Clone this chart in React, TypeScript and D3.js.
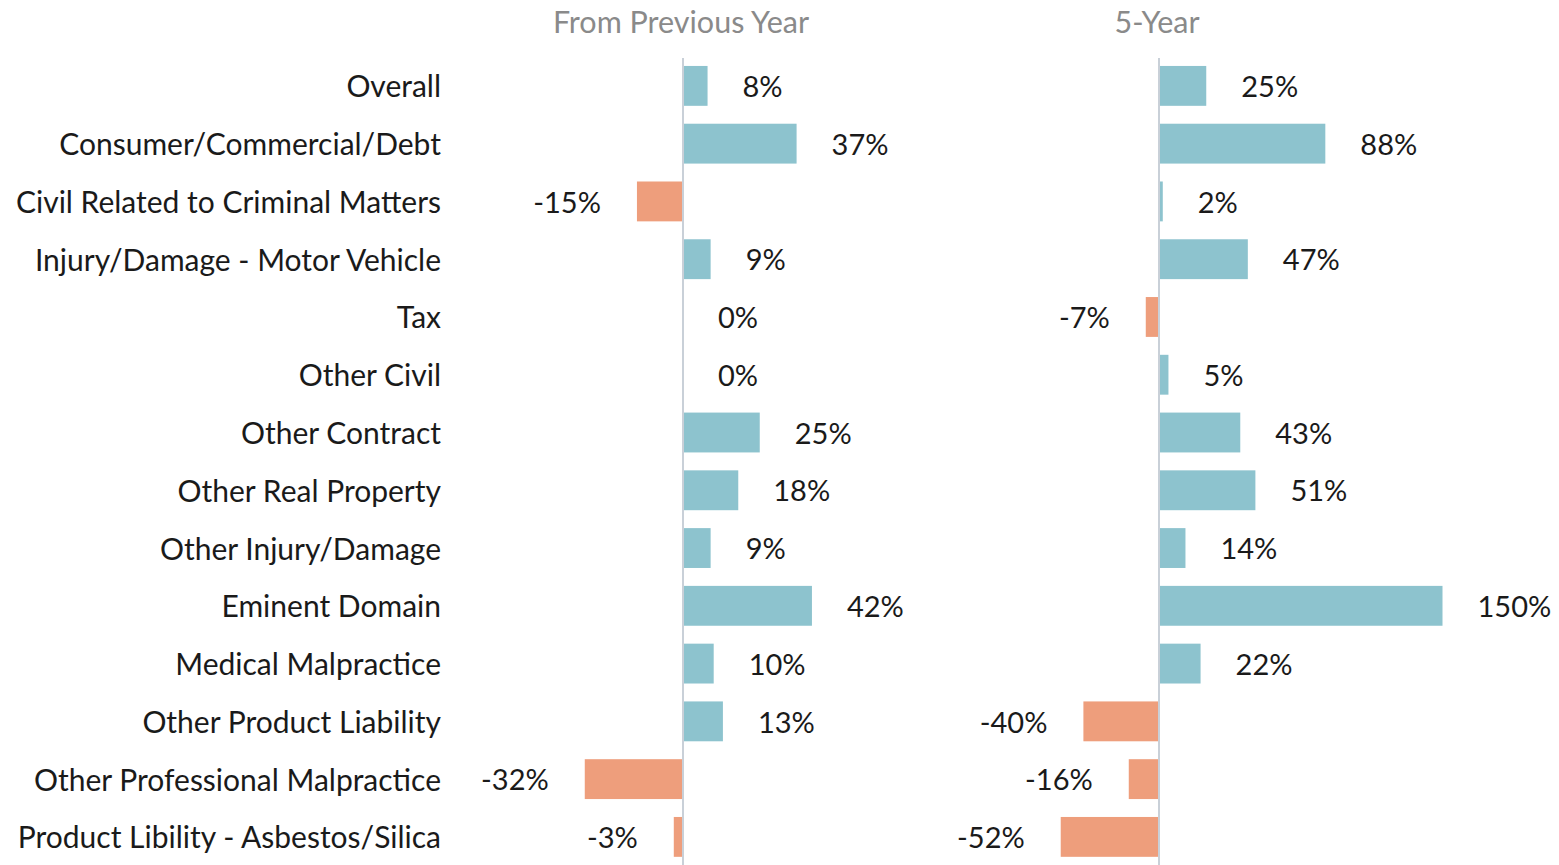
import React, { useEffect, useRef } from "react";
import * as d3 from "d3";

const categories = [
  "Overall",
  "Consumer/Commercial/Debt",
  "Civil Related to Criminal Matters",
  "Injury/Damage - Motor Vehicle",
  "Tax",
  "Other Civil",
  "Other Contract",
  "Other Real Property",
  "Other Injury/Damage",
  "Eminent Domain",
  "Medical Malpractice",
  "Other Product Liability",
  "Other Professional Malpractice",
  "Product Libility - Asbestos/Silica",
];
const fromPreviousYear = [8, 37, -15, 9, 0, 0, 25, 18, 9, 42, 10, 13, -32, -3];
const fiveYear = [25, 88, 2, 47, -7, 5, 43, 51, 14, 150, 22, -40, -16, -52];
const panelTitles = ["From Previous Year", "5-Year"];

const W = 1559;
const H = 865;
const FONT = "Lato, 'Noto Sans', sans-serif";
const BLUE = "#8dc3ce";
const ORANGE = "#ee9e7c";

const App = () => {
  const ref = useRef<SVGSVGElement>(null);

  useEffect(() => {
    const svg = d3.select(ref.current);
    svg.selectAll("*").remove();

    const y = d3.scaleBand<string>()
      .domain(categories)
      .range([57, 57 + 57.77 * categories.length])
      .paddingInner(0.31)
      .paddingOuter(0.155);

    // category labels
    svg.append("g")
      .selectAll("text")
      .data(categories)
      .join("text")
      .attr("x", 441)
      .attr("y", d => y(d)! + y.bandwidth() / 2 + 1)
      .attr("dy", "0.35em")
      .attr("text-anchor", "end")
      .attr("font-family", FONT)
      .attr("font-size", 30)
      .attr("fill", "#1a1a1a")
      .text(d => d);

    const panels = [
      { title: panelTitles[0], values: fromPreviousYear, zero: 683, ppu: 3.07, domain: [-40, 50] },
      { title: panelTitles[1], values: fiveYear, zero: 1159, ppu: 1.89, domain: [-60, 160] },
    ];

    panels.forEach(p => {
      const x = d3.scaleLinear()
        .domain(p.domain)
        .range([p.zero + p.domain[0] * p.ppu, p.zero + p.domain[1] * p.ppu]);
      const g = svg.append("g");

      g.append("text")
        .attr("x", x(0) - 2)
        .attr("y", 22)
        .attr("dy", "0.35em")
        .attr("text-anchor", "middle")
        .attr("font-family", FONT)
        .attr("font-size", 30.5)
        .attr("fill", "#8a8a8a")
        .text(p.title);

      const rows = categories.map((c, i) => ({ c, v: p.values[i] }));

      g.selectAll("rect")
        .data(rows)
        .join("rect")
        .attr("x", d => x(Math.min(0, d.v)))
        .attr("y", d => y(d.c)!)
        .attr("width", d => Math.abs(x(d.v) - x(0)))
        .attr("height", y.bandwidth())
        .attr("fill", d => (d.v < 0 ? ORANGE : BLUE));

      g.append("line")
        .attr("x1", x(0))
        .attr("x2", x(0))
        .attr("y1", 58)
        .attr("y2", H)
        .attr("stroke", "#c9d0d8")
        .attr("stroke-width", 2);

      g.selectAll(".val")
        .data(rows)
        .join("text")
        .attr("class", "val")
        .attr("x", d => (d.v < 0 ? x(d.v) - 36 : x(d.v) + 35))
        .attr("y", d => y(d.c)! + y.bandwidth() / 2 + 1)
        .attr("dy", "0.35em")
        .attr("text-anchor", d => (d.v < 0 ? "end" : "start"))
        .attr("font-family", FONT)
        .attr("font-size", 29)
        .attr("fill", "#1a1a1a")
        .text(d => `${d.v}%`);
    });
  }, []);

  return (
    <svg
      ref={ref}
      width={W}
      height={H}
      style={{ position: "absolute", left: 0, top: 0, background: "#fff" }}
    />
  );
};

export default App;
